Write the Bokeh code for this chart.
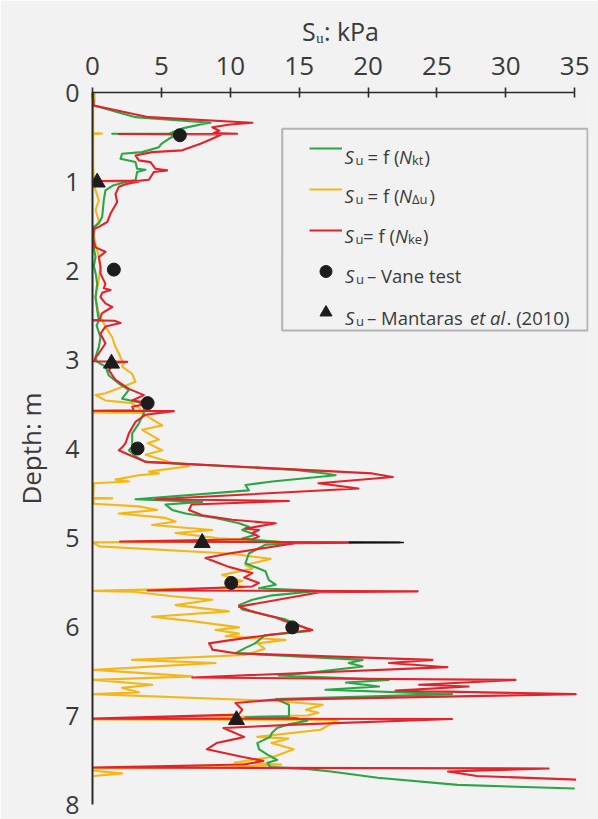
from bokeh.plotting import figure
from bokeh.models import (Range1d, FixedTicker, Label, BoxAnnotation, Legend, LegendItem, LinearAxis)
from bokeh.embed import file_html
from bokeh.resources import INLINE

# ---------------- data (depth m, Su kPa) ----------------
green = [(0.00,0.05),(0.12,0.05),(0.146,0.1),(0.277,3.12),(0.34,8.57),(0.352,8.09),(0.40,6.6),(0.44,5.9),
 (0.46,5.6),(0.464,1.43),(0.468,5.78),(0.50,5.78),(0.52,5.54),(0.576,5.0),(0.614,4.82),(0.67,3.6),(0.688,2.15),
 (0.744,2.03),(0.782,3.12),(0.857,3.24),(0.868,3.85),(0.894,3.24),(0.987,3.12),(1.00,2.5),(1.044,1.5),(1.10,0.94),
 (1.21,0.82),(1.40,0.70),(1.47,0.46),(1.51,0.1),(1.60,0.05),(1.75,0.1),(1.85,0.22),(1.95,0.1),(2.05,0.25),
 (2.15,0.34),(2.30,0.22),(2.45,0.35),(2.56,0.46),(2.62,0.3),(2.75,0.58),(2.86,0.46),(2.97,0.22),(3.02,0.3),
 (3.08,0.94),(3.18,1.19),(3.27,1.91),(3.34,2.64),(3.44,2.15),(3.48,3.36),(3.53,3.73),(3.60,3.73),(3.72,3.36),
 (3.83,2.88),(3.98,2.88),(4.02,2.64),(4.09,3.12),(4.15,3.85),(4.24,14.74),(4.28,16.92),(4.30,17.65),(4.37,13.05),
 (4.41,11.1),(4.47,11.35),(4.57,3.12),(4.60,7.96),(4.63,5.30),(4.69,5.78),(4.73,6.75),(4.78,8.93),(4.84,10.63),
 (4.88,11.35),(4.915,10.87),(4.97,11.84),(5.01,10.87),(5.03,11.84),(5.065,14.6),(5.08,12.56),(5.18,11.35),
 (5.29,11.1),(5.38,12.56),(5.48,12.8),(5.53,13.3),(5.57,12.08),(5.60,16.4),(5.65,13.05),(5.70,11.6),(5.76,10.63),
 (5.81,10.87),(5.87,12.56),(5.92,14.0),(6.02,15.47),(6.05,15.8),(6.10,12.5),(6.19,11.8),(6.24,11.1),(6.30,10.4),
 (6.375,19.6),(6.41,18.6),(6.45,19.6),(6.524,15.5),(6.55,13.5),(6.60,21.5),(6.63,18.4),(6.674,20.8),(6.71,16.9),
 (6.76,26.1),(6.816,13.3),(6.88,14.26),(7.01,14.26),(7.02,11.1),(7.03,14.8),(7.06,15.6),(7.10,14.2),(7.14,13.4),
 (7.20,13.0),(7.24,12.9),(7.31,11.96),(7.38,12.1),(7.44,12.7),(7.50,13.4),(7.53,12.7),(7.58,12.9),(7.60,15.5),
 (7.63,17.3),(7.70,20.7),(7.78,26.5),(7.82,35.0)]

red = [(0.00,0.0),(0.146,0.1),(0.277,4.09),(0.34,11.6),(0.36,10.0),(0.39,8.69),(0.43,9.2),(0.455,8.8),
 (0.464,10.5),(0.466,1.91),(0.47,9.4),(0.52,8.69),(0.576,7.84),(0.65,6.51),(0.67,4.33),(0.707,3.12),(0.763,3.36),
 (0.782,4.21),(0.857,4.57),(0.875,5.42),(0.894,4.45),(0.98,4.09),(0.99,3.48),(0.995,0.22),(1.0,3.4),(1.03,2.4),
 (1.06,1.91),(1.14,1.67),(1.23,1.79),(1.36,1.31),(1.455,1.07),(1.51,0.46),(1.53,0.1),(1.65,0.05),(1.74,0.22),
 (1.79,0.94),(1.85,0.46),(1.96,0.58),(2.035,0.58),(2.15,0.94),(2.20,0.82),(2.22,1.31),(2.25,0.7),(2.30,0.58),
 (2.37,0.94),(2.41,1.43),(2.48,0.70),(2.555,0.5),(2.56,0.0),(2.565,1.6),(2.59,2.03),(2.63,0.94),(2.71,0.58),
 (2.82,0.94),(2.93,0.46),(2.98,0.22),(3.02,0.1),(3.027,2.52),(3.035,1.6),(3.12,1.19),(3.23,1.67),(3.33,2.64),
 (3.40,3.73),(3.46,2.88),(3.49,4.21),(3.53,2.88),(3.572,3.0),(3.575,0.0),(3.58,5.9),(3.62,3.85),(3.70,3.12),
 (3.83,2.64),(3.94,2.4),(3.98,2.2),(4.02,1.91),(4.07,2.64),(4.15,3.85),(4.28,20.3),(4.32,21.8),(4.39,16.4),
 (4.45,19.3),(4.57,4.57),(4.59,14.26),(4.63,7.2),(4.69,7.0),(4.75,7.96),(4.80,10.14),(4.83,12.32),(4.84,13.3),
 (4.90,11.1),(4.915,12.08),(4.95,11.6),(4.99,12.08),(5.02,11.6),(5.045,2.0),(5.055,22.3),(5.065,14.7),(5.18,9.9),
 (5.23,8.2),(5.29,9.2),(5.33,9.9),(5.37,10.87),(5.40,11.6),(5.45,11.0),(5.51,12.08),(5.55,11.6),(5.595,4.0),
 (5.605,23.6),(5.615,16.5),(5.777,10.63),(5.83,11.6),(5.90,13.3),(5.94,14.0),(6.04,15.95),(6.09,13.05),
 (6.15,10.14),(6.19,8.45),(6.22,8.6),(6.26,8.69),(6.30,10.38),(6.375,24.67),(6.41,21.52),(6.457,25.76),
 (6.573,7.24),(6.60,30.7),(6.655,23.7),(6.674,27.3),(6.72,22.0),(6.76,35.07),(6.824,13.05),(6.86,10.38),
 (6.936,10.87),(6.99,10.6),(7.035,0.0),(7.04,26.1),(7.10,15.1),(7.14,9.5),(7.24,11.0),(7.26,10.5),(7.31,9.0),
 (7.38,8.3),(7.46,10.75),(7.51,12.4),(7.55,11.0),(7.585,0.0),(7.595,33.1),(7.63,25.8),(7.68,27.9),(7.72,35.1)]

yellow = [(0.0,0.15),(0.10,0.15),(0.14,0.05),(0.455,0.05),(0.46,0.7),(0.468,0.05),(0.8,0.05),(1.0,0.1),
 (1.10,0.22),(1.21,0.46),(1.32,0.22),(1.44,0.46),(1.51,0.22),(1.60,0.1),(1.70,0.22),(1.85,0.46),(1.96,0.58),
 (2.10,0.46),(2.30,0.22),(2.45,0.4),(2.56,0.70),(2.63,0.94),(2.75,1.43),(2.86,1.67),(2.93,1.91),(3.00,2.1),
 (3.04,2.28),(3.08,2.15),(3.16,2.88),(3.25,3.12),(3.31,2.15),(3.38,0.94),(3.40,0.22),(3.46,0.94),(3.49,2.88),
 (3.57,3.6),(3.595,0.0),(3.60,3.6),(3.66,4.2),(3.74,5.06),(3.79,3.6),(3.90,4.82),(3.94,4.0),(4.02,5.06),
 (4.07,3.85),(4.15,5.54),(4.20,7.0),(4.26,4.09),(4.28,4.82),(4.30,3.36),(4.35,1.67),(4.37,2.64),(4.39,0.1),
 (4.555,0.05),(4.56,1.43),(4.565,0.05),(4.62,0.1),(4.65,3.36),(4.69,4.70),(4.73,1.91),(4.78,5.30),(4.82,6.03),
 (4.86,4.33),(4.915,8.69),(4.95,6.03),(5.01,9.17),(5.045,13.6),(5.055,0.0),(5.10,0.5),(5.18,9.9),(5.24,12.93),
 (5.31,11.1),(5.35,11.6),(5.42,9.42),(5.49,10.87),(5.51,10.14),(5.56,11.0),(5.60,0.0),(5.61,3.0),(5.66,5.78),
 (5.70,8.69),(5.76,6.03),(5.83,9.9),(5.89,4.33),(5.94,7.24),(6.01,10.63),(6.04,8.93),(6.08,10.63),(6.11,9.66),
 (6.15,14.0),(6.19,12.0),(6.25,12.5),(6.32,11.1),(6.375,2.88),(6.41,8.93),(6.487,0.1),(6.56,7.24),(6.60,0.1),
 (6.655,4.33),(6.69,2.15),(6.74,3.36),(6.76,0.1),(6.835,13.05),(6.88,16.7),(6.936,15.5),(6.97,16.4),(7.00,15.6),
 (7.045,0.0),(7.05,17.8),(7.16,16.56),(7.24,11.96),(7.26,14.2),(7.31,13.0),(7.38,14.6),(7.46,13.2),(7.53,10.3),
 (7.55,13.7),(7.58,10.0),(7.595,0.0),(7.62,0.1),(7.65,2.15),(7.68,0.1)]

tip = [(5.055,18.6),(5.057,22.6)]

vane_su = [6.34, 1.55, 4.0, 3.27, 10.07, 14.5]
vane_depth = [0.48, 1.99, 3.49, 4.0, 5.51, 6.01]
mant_su = [0.34, 1.38, 7.96, 10.45]
mant_depth = [1.01, 3.045, 5.06, 7.05]

x_ticks = [0, 5, 10, 15, 20, 25, 30, 35]
y_ticks = [0, 1, 2, 3, 4, 5, 6, 7, 8]
x_title = "Sᵤ: kPa"
y_title = "Depth: m"

# ---------------- styling ----------------
BG = "#f2f2f2"
TXT = "#3a3a3a"
FONT = "Open Sans"
GREEN = "#2ba646"
YELLOW = "#f4b71a"
RED = "#e2232b"
DARK = "#1c1c1c"

W, H = 598, 819
FL, FT, FW, FH = 92, 92, 496, 712     # frame left/top/width/height in px
XMAX = 36.0

def sx(px):
    return (px - FL) / (FW / XMAX)

def sy(py):
    return (py - FT) / (FH / 8.0)

p = figure(width=W, height=H, output_backend="svg", toolbar_location=None,
           x_range=Range1d(0, XMAX), y_range=Range1d(8, 0), x_axis_location="above",
           min_border_left=FL, min_border_right=W - FL - FW, min_border_top=FT,
           min_border_bottom=H - FT - FH,
           background_fill_color=BG, border_fill_color=BG, outline_line_color=None)
p.grid.visible = False

xa = p.xaxis[0]
xa.ticker = FixedTicker(ticks=x_ticks)
xa.bounds = (0, 35)
xa.axis_line_color = "#2a2a2a"
xa.axis_line_width = 1.6
xa.major_tick_line_color = "#2a2a2a"
xa.major_tick_line_width = 1.6
xa.major_tick_in = 5
xa.major_tick_out = 5
xa.minor_tick_line_color = None
xa.major_label_text_font = FONT
xa.major_label_text_font_size = "26px"
xa.major_label_text_color = TXT
xa.major_label_standoff = 13

ya = p.yaxis[0]
ya.ticker = FixedTicker(ticks=y_ticks)
ya.bounds = (0, 8)
ya.axis_line_color = "#2a2a2a"
ya.axis_line_width = 2
ya.major_tick_line_color = None
ya.major_tick_in = 0
ya.major_tick_out = 0
ya.minor_tick_line_color = None
ya.major_label_text_font = FONT
ya.major_label_text_font_size = "25px"
ya.major_label_text_color = TXT
ya.major_label_standoff = 13

def title_axis(bounds, label, standoff, size):
    return LinearAxis(ticker=FixedTicker(ticks=[]), bounds=bounds, axis_label=label,
                      axis_line_color=None, major_tick_line_color=None, minor_tick_line_color=None,
                      major_label_text_font_size="0px", major_label_standoff=0,
                      axis_label_text_font=FONT, axis_label_text_font_size=size,
                      axis_label_text_font_style="normal", axis_label_text_color=TXT,
                      axis_label_standoff=standoff)

p.add_layout(title_axis((0.0, 35.0), x_title, 6, "25px"), "above")
p.add_layout(title_axis((0.0, 8.0), y_title, 14, "26px"), "left")

def unzip(pairs):
    return [b for a, b in pairs], [a for a, b in pairs]

gx, gy = unzip(green)
rx, ry = unzip(red)
yx, yy = unzip(yellow)
tx, ty = unzip(tip)

ry_r = p.line(yx, yy, line_color=YELLOW, line_width=2.1, line_join="round")
rg_r = p.line(gx, gy, line_color=GREEN, line_width=2.1, line_join="round")
rr_r = p.line(rx, ry, line_color=RED, line_width=2.1, line_join="round")
p.line(tx, ty, line_color="#111111", line_width=1.6)
rv = p.scatter(vane_su, vane_depth, marker="circle", size=13, fill_color=DARK, line_color=DARK)
rm = p.scatter(mant_su, mant_depth, marker="triangle", size=16, fill_color=DARK, line_color=DARK)

# ---------------- legend ----------------
box = BoxAnnotation(left=sx(281.7), right=sx(587), top=sy(128.3), bottom=sy(330),
                    fill_color=BG, fill_alpha=1.0, line_color="#222222", line_width=2, level="underlay")
p.add_layout(box)

leg = Legend(items=[LegendItem(label=" ", renderers=[rg_r]),
                    LegendItem(label=" ", renderers=[ry_r]),
                    LegendItem(label=" ", renderers=[rr_r]),
                    LegendItem(label=" ", renderers=[rv]),
                    LegendItem(label=" ", renderers=[rm])],
             location=(309 - FL, (FT + FH) - 327.4), margin=0, padding=0,
             glyph_width=33, glyph_height=30, spacing=11, label_height=30,
             label_text_font_size="10px", label_standoff=0, label_width=1,
             border_line_color=None, background_fill_alpha=0.0)
p.add_layout(leg)

def txt(x, y, s, size="18px", style="normal"):
    p.add_layout(Label(x=sx(x), y=sy(y), text=s, text_font=FONT, text_font_size=size,
                       text_font_style=style, text_color=TXT, text_baseline="alphabetic",
                       text_align="left", level="overlay"))

MAIN, SUB = "18.5px", "13px"
rows = [
    (155.7, [("S", 344, "italic", 0), ("u", 355, "normal", 1), ("= f (", 367, "normal", 0),
             ("N", 398.5, "italic", 0), ("kt", 411.5, "normal", 1), (")", 424, "normal", 0)]),
    (194.5, [("S", 344, "italic", 0), ("u", 355, "normal", 1), ("= f (", 367, "normal", 0),
             ("N", 398.5, "italic", 0), ("Δu", 411.5, "normal", 1), (")", 429, "normal", 0)]),
    (235.0, [("S", 344, "italic", 0), ("u", 355, "normal", 1), ("= f (", 362.5, "normal", 0),
             ("N", 394.5, "italic", 0), ("ke", 407.5, "normal", 1), (")", 422.5, "normal", 0)]),
    (275.3, [("S", 344.5, "italic", 0), ("u", 355.5, "normal", 1), ("– Vane test", 366.5, "normal", 0)]),
    (316.7, [("S", 344.5, "italic", 0), ("u", 355.5, "normal", 1), ("– Mantaras", 366.5, "normal", 0),
             ("et al", 469.5, "italic", 0), (". (2010)", 506, "normal", 0)]),
]
for base, pieces in rows:
    for s, x, style, sub in pieces:
        if sub:
            txt(x, base + 3.5, s, size=SUB, style=style)
        else:
            txt(x, base, s, size=MAIN, style=style)

open("out.html", "w").write(file_html(p, INLINE))
